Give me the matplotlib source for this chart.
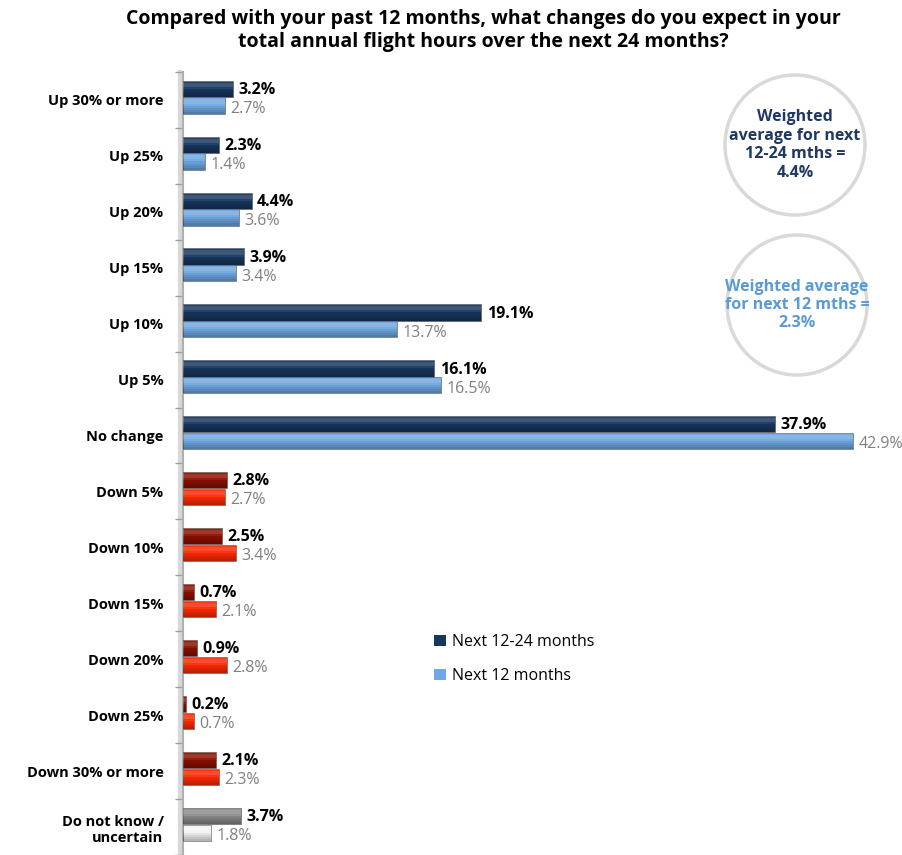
import numpy as np
import matplotlib.pyplot as plt
from matplotlib.patches import Circle, Patch

plt.rcParams['font.family'] = ['Open Sans', 'DejaVu Sans']

categories = ['Up 30% or more', 'Up 25%', 'Up 20%', 'Up 15%', 'Up 10%', 'Up 5%',
              'No change', 'Down 5%', 'Down 10%', 'Down 15%', 'Down 20%', 'Down 25%',
              'Down 30% or more', 'Do not know /\nuncertain']
next_12_24 = [3.2, 2.3, 4.4, 3.9, 19.1, 16.1, 37.9, 2.8, 2.5, 0.7, 0.9, 0.2, 2.1, 3.7]
next_12 = [2.7, 1.4, 3.6, 3.4, 13.7, 16.5, 42.9, 2.7, 3.4, 2.1, 2.8, 0.7, 2.3, 1.8]

# colour per row: up/no change = blue, down = red, unknown = grey
dark_cols = ['#17375E'] * 7 + ['#8B1100'] * 6 + ['#8C8C8C']
light_cols = ['#6FA8E4'] * 7 + ['#FF2A00'] * 6 + ['#F4F4F4']

fig = plt.figure(figsize=(9.03, 8.55), dpi=100)
ax = fig.add_axes([183 / 903, 0, 1 - 183 / 903, 1 - 72 / 855])

y = np.arange(len(categories))
h = 0.29
off = 0.15
shift = -0.05  # bar pair sits a little above the label centre

def cyl_bars(ypos, vals, cols):
    ax.barh(ypos, vals, height=h, color=cols, edgecolor='#505050', linewidth=0.4, zorder=3)
    # soft shading strips to fake the cylinder look (light on top, dark at bottom)
    n = 8
    for k in range(n):
        t = (k + 0.5) / n
        yc = ypos - h / 2 + t * h
        if t < 0.45:
            col, a = 'white', 0.22 * (1 - abs(t - 0.25) / 0.25) if t > 0.05 else 0.0
        else:
            col, a = 'black', 0.3 * (t - 0.45) / 0.55
        if a > 0:
            ax.barh(yc, vals, height=h / n, color=col, alpha=a, linewidth=0, zorder=4)

cyl_bars(y - off + shift, next_12_24, dark_cols)
cyl_bars(y + off + shift, next_12, light_cols)

for i in range(len(categories)):
    ax.text(next_12_24[i] + 0.35, y[i] - off + shift + 0.02, f'{next_12_24[i]:.1f}%',
            va='center', ha='left', fontsize=11.5, fontweight='bold', color='black')
    ax.text(next_12[i] + 0.35, y[i] + off + shift + 0.06, f'{next_12[i]:.1f}%',
            va='center', ha='left', fontsize=11.5, color='#808080')

ax.set_xlim(0, 46.1)
ax.set_ylim(13.5, -0.5)
ax.set_yticks(y)
ax.set_yticklabels(categories, fontsize=10.5, fontweight='bold')
ax.tick_params(axis='y', length=0, pad=14)
ax.set_yticks(np.arange(-0.5, 13.6, 1), minor=True)
ax.tick_params(axis='y', which='minor', length=6, color='#A0A0A0', width=1)
ax.set_xticks([])
for s in ['top', 'right', 'bottom']:
    ax.spines[s].set_visible(False)
ax.spines['left'].set_color('#B0B0B0')
ax.spines['left'].set_linewidth(1.5)
ax.axvline(-0.2, color='#D8D8D8', lw=3, zorder=1, clip_on=False)

fig.suptitle('Compared with your past 12 months, what changes do you expect in your\n'
             'total annual flight hours over the next 24 months?',
             x=0.535, y=0.99, fontsize=14, fontweight='bold', linespacing=1.25)

# weighted average callouts
c1 = Circle((7.95, 7.10), 0.70, transform=fig.dpi_scale_trans, facecolor='white',
            edgecolor='#D9D9D9', lw=2.5)
c2 = Circle((7.97, 5.50), 0.70, transform=fig.dpi_scale_trans, facecolor='white',
            edgecolor='#D9D9D9', lw=2.5)
fig.add_artist(c1)
fig.add_artist(c2)
fig.text(7.95 / 9.03, 7.10 / 8.55, 'Weighted\naverage for next\n12-24 mths =\n4.4%',
         ha='center', va='center', fontsize=11.5, fontweight='bold', color='#1F3864',
         linespacing=1.2)
fig.text(7.97 / 9.03, 5.50 / 8.55, 'Weighted average\nfor next 12 mths =\n2.3%',
         ha='center', va='center', fontsize=11.5, fontweight='bold', color='#5B9BD5',
         linespacing=1.2)

handles = [Patch(facecolor='#17375E', label='Next 12-24 months'),
           Patch(facecolor='#6FA8E4', label='Next 12 months')]
fig.legend(handles=handles, loc='upper left', bbox_to_anchor=(420 / 903, 1 - 620 / 855),
           frameon=False, fontsize=11.5, handlelength=0.7, handleheight=0.7,
           handletextpad=0.4, labelspacing=1.1)

fig.savefig('out.png', dpi=100)
